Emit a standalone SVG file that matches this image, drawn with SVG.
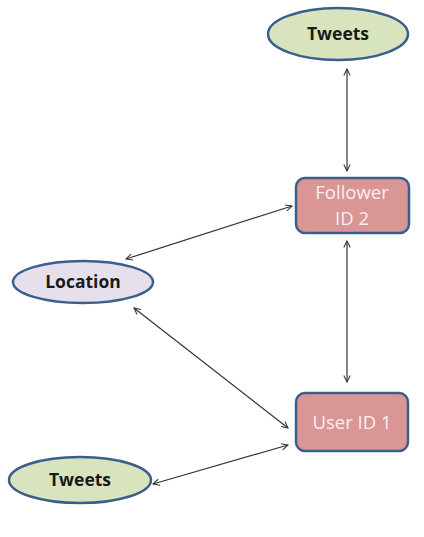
<svg xmlns="http://www.w3.org/2000/svg" width="424" height="537" viewBox="0 0 424 537">
<style>
.ell{stroke:#3b5f8c;stroke-width:2.5}
.green{fill:#d7e4bd}
.purple{fill:#e6e0ec}
.box{fill:#d99694;stroke:#3b5f8c;stroke-width:2.5}
.bt{font-family:"Open Sans","Liberation Sans",sans-serif;font-weight:bold;font-size:17.5px;fill:#1a1a1a;text-anchor:middle}
.wt{font-family:"Open Sans","Liberation Sans",sans-serif;font-size:18.5px;fill:#fbeeee;text-anchor:middle}
.conn{stroke:#333;stroke-width:1.2;fill:none;marker-start:url(#ah);marker-end:url(#ah)}
</style>
<defs>
<marker id="ah" viewBox="0 0 10 10" refX="9" refY="5" markerWidth="8" markerHeight="8" orient="auto-start-reverse" markerUnits="userSpaceOnUse">
<polyline points="1,1 9,5 1,9" fill="none" stroke="#333" stroke-width="1.3"/>
</marker>
</defs>
<rect width="424" height="537" fill="#fff"/>
<g id="connectors">
<line class="conn" x1="347" y1="69" x2="347" y2="171"/>
<line class="conn" x1="347" y1="241" x2="347" y2="382"/>
<line class="conn" x1="126" y1="259" x2="292" y2="206"/>
<line class="conn" x1="134" y1="308" x2="288" y2="428"/>
<line class="conn" x1="153" y1="484" x2="288" y2="445"/>
</g>
<g id="tweets-top">
<ellipse class="ell green" cx="338" cy="34" rx="70" ry="26"/>
<text class="bt" x="338" y="40">Tweets</text>
</g>
<g id="follower">
<rect class="box" x="296" y="178" width="113" height="55" rx="9"/>
<text class="wt" x="352" y="199">Follower</text>
<text class="wt" x="352" y="225">ID 2</text>
</g>
<g id="location">
<ellipse class="ell purple" cx="83" cy="282" rx="70" ry="21"/>
<text class="bt" x="83" y="288">Location</text>
</g>
<g id="user">
<rect class="box" x="296" y="393" width="112" height="58" rx="9"/>
<text class="wt" x="352" y="429">User ID 1</text>
</g>
<g id="tweets-bottom">
<ellipse class="ell green" cx="80" cy="480" rx="71" ry="23"/>
<text class="bt" x="80" y="486">Tweets</text>
</g>
</svg>
